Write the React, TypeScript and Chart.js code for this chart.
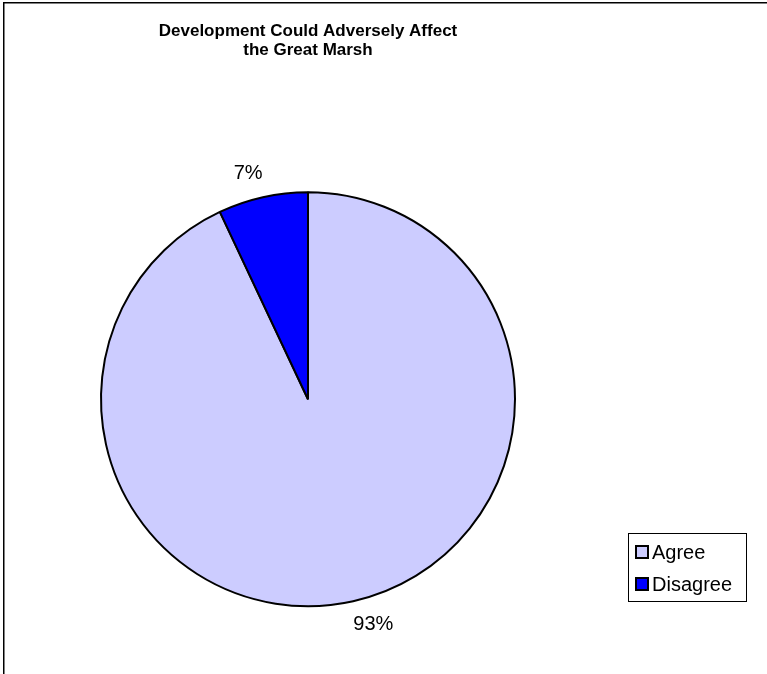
import React, { useEffect, useRef } from "react";
import { Chart, registerables } from "chart.js";

Chart.register(...registerables);

const TITLE_LINES = ["Development Could Adversely Affect", "the Great Marsh"];
const CATEGORIES = ["Agree", "Disagree"];
const VALUES = [93, 7];
const SLICE_COLORS = ["#CCCCFF", "#0000FF"];

const FONT = "'Liberation Sans', Arial, Helvetica, sans-serif";

const framePlugin = {
  id: "frame",
  beforeDraw(chart: any) {
    const ctx = chart.ctx;
    ctx.save();
    ctx.fillStyle = "#ffffff";
    ctx.fillRect(0, 0, chart.width, chart.height);
    ctx.strokeStyle = "#000000";
    ctx.lineWidth = 1.5;
    ctx.beginPath();
    ctx.moveTo(3.75, chart.height + 2);
    ctx.lineTo(3.75, 2.75);
    ctx.lineTo(chart.width + 2, 2.75);
    ctx.stroke();
    ctx.restore();
  },
};

const sliceLabelPlugin = {
  id: "sliceLabels",
  afterDatasetsDraw(chart: any) {
    const ctx = chart.ctx;
    const meta = chart.getDatasetMeta(0);
    const data = chart.data.datasets[0].data as number[];
    const total = data.reduce((a, b) => a + b, 0);
    ctx.save();
    ctx.font = `20px ${FONT}`;
    ctx.fillStyle = "#000000";
    ctx.textBaseline = "middle";
    meta.data.forEach((arc: any, i: number) => {
      const p = arc.getProps(["x", "y", "startAngle", "endAngle", "outerRadius"], true);
      const mid = (p.startAngle + p.endAngle) / 2;
      const cos = Math.cos(mid);
      const sin = Math.sin(mid);
      const text = Math.round((data[i] / total) * 100) + "%";
      const h = 18;
      const d = p.outerRadius + 15;
      const ax = p.x + cos * (d - 14);
      const ay = p.y + sin * d;
      ctx.textAlign = cos < 0 ? "right" : "left";
      const y = ay + (sin < 0 ? -h / 2 : h / 2);
      ctx.fillText(text, ax, y);
    });
    ctx.restore();
  },
};

const boxLegendPlugin = {
  id: "boxLegend",
  afterDraw(chart: any) {
    const ctx = chart.ctx;
    const labels = chart.data.labels as string[];
    const colors = chart.data.datasets[0].backgroundColor as string[];
    const left = 628;
    const top = 533;
    const width = 118;
    const height = 68;
    ctx.save();
    ctx.strokeStyle = "#000000";
    ctx.lineWidth = 1;
    ctx.strokeRect(left + 0.5, top + 0.5, width, height);
    ctx.font = `20px ${FONT}`;
    ctx.textAlign = "left";
    ctx.textBaseline = "middle";
    labels.forEach((label, i) => {
      const cy = top + 19 + i * 32;
      ctx.fillStyle = colors[i];
      ctx.fillRect(left + 8, cy - 6, 12, 12);
      ctx.strokeStyle = "#000000";
      ctx.lineWidth = 2;
      ctx.strokeRect(left + 8, cy - 6, 12, 12);
      ctx.fillStyle = "#000000";
      ctx.fillText(label, left + 24, cy + 1);
    });
    ctx.restore();
  },
};

export default function App() {
  const canvasRef = useRef<HTMLCanvasElement | null>(null);

  useEffect(() => {
    const canvas = canvasRef.current;
    if (!canvas) return;
    const chart = new Chart(canvas, {
      type: "pie",
      data: {
        labels: CATEGORIES,
        datasets: [
          {
            data: VALUES,
            backgroundColor: SLICE_COLORS,
            borderColor: "#000000",
            borderWidth: 2,
          },
        ],
      },
      options: {
        responsive: false,
        devicePixelRatio: 1,
        animation: false,
        radius: 207,
        layout: { padding: { left: 80, right: 231, top: 0, bottom: 46 } },
        plugins: {
          legend: { display: false },
          tooltip: { enabled: false },
          title: {
            display: true,
            text: TITLE_LINES,
            fullSize: false,
            color: "#000000",
            font: { family: FONT, size: 17, weight: "bold", lineHeight: 1.1 },
            padding: { top: 22, bottom: 111 },
          },
        },
      } as any,
      plugins: [framePlugin, sliceLabelPlugin, boxLegendPlugin],
    });
    return () => chart.destroy();
  }, []);

  return (
    <div style={{ position: "absolute", left: 0, top: 0, width: 767, height: 674, background: "#fff" }}>
      <canvas ref={canvasRef} width={767} height={674} style={{ display: "block" }} />
    </div>
  );
}
